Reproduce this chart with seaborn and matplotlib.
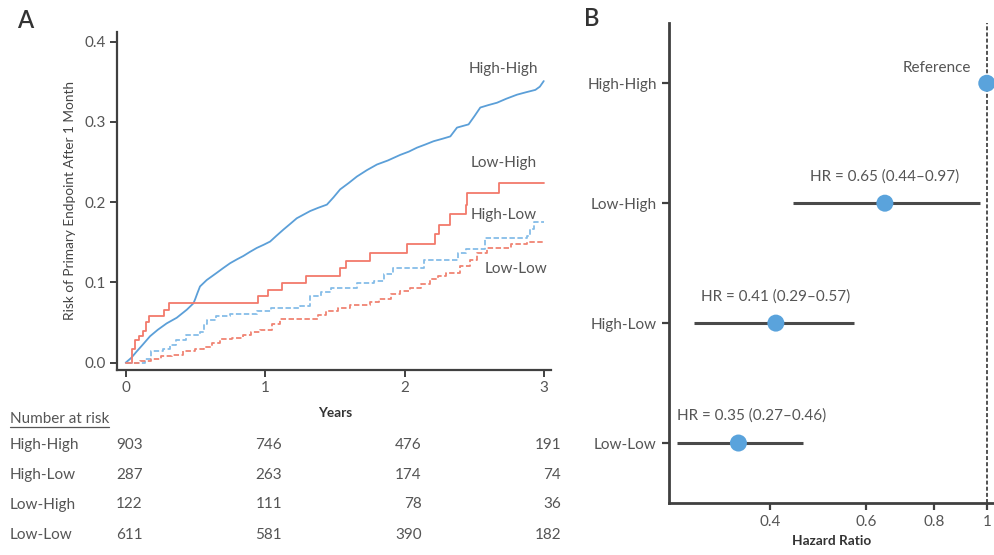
import numpy as np
import pandas as pd
import matplotlib
matplotlib.use("Agg")
import matplotlib.pyplot as plt
import matplotlib.transforms as mtransforms
from matplotlib.lines import Line2D
import seaborn as sns

# ---------------- data ----------------
hh_t = [0, 0.04, 0.079, 0.12, 0.175, 0.23, 0.294, 0.366, 0.438, 0.486, 0.498, 0.515, 0.533, 0.581,
        0.653, 0.70, 0.749, 0.80, 0.844, 0.89, 0.940, 0.99, 1.036, 1.08, 1.132, 1.18, 1.227, 1.323,
        1.38, 1.443, 1.49, 1.538, 1.60, 1.658, 1.73, 1.802, 1.88, 1.969, 2.03, 2.089, 2.15, 2.208,
        2.27, 2.328, 2.376, 2.459, 2.50, 2.543, 2.60, 2.663, 2.73, 2.806, 2.87, 2.938, 2.97, 2.998]
hh_y = [0, 0.006, 0.014, 0.022, 0.033, 0.041, 0.049, 0.056, 0.066, 0.074, 0.079, 0.087, 0.095, 0.103,
        0.112, 0.118, 0.124, 0.129, 0.133, 0.138, 0.143, 0.147, 0.151, 0.158, 0.166, 0.173, 0.180, 0.189,
        0.193, 0.197, 0.206, 0.216, 0.224, 0.232, 0.240, 0.247, 0.252, 0.259, 0.263, 0.268, 0.272, 0.276,
        0.279, 0.282, 0.293, 0.297, 0.307, 0.318, 0.321, 0.324, 0.329, 0.334, 0.337, 0.340, 0.344, 0.351]

lh_t = [0, 0.043, 0.066, 0.098, 0.126, 0.146, 0.17, 0.277, 0.313, 0.951, 1.023, 1.119, 1.294, 1.537,
        1.578, 1.753, 2.017, 2.22, 2.244, 2.328, 2.443, 2.45, 2.675, 3.0]
lh_y = [0, 0.017, 0.028, 0.033, 0.040, 0.051, 0.058, 0.066, 0.074, 0.083, 0.091, 0.099, 0.108, 0.118,
        0.127, 0.137, 0.148, 0.160, 0.172, 0.185, 0.197, 0.211, 0.224, 0.224]

hl_t = [0, 0.14, 0.18, 0.27, 0.32, 0.36, 0.43, 0.53, 0.56, 0.58, 0.65, 0.75, 0.94, 1.04, 1.25, 1.32,
        1.40, 1.47, 1.66, 1.78, 1.85, 1.92, 2.14, 2.38, 2.44, 2.58, 2.88, 2.90, 2.93, 3.0]
hl_y = [0, 0.004, 0.014, 0.017, 0.022, 0.028, 0.035, 0.038, 0.048, 0.053, 0.058, 0.061, 0.064, 0.068,
        0.071, 0.083, 0.088, 0.093, 0.099, 0.102, 0.110, 0.118, 0.128, 0.137, 0.142, 0.155, 0.158,
        0.166, 0.175, 0.175]

ll_t = [0, 0.10, 0.18, 0.25, 0.33, 0.41, 0.50, 0.56, 0.62, 0.68, 0.76, 0.84, 0.90, 0.96, 1.05, 1.11,
        1.32, 1.38, 1.44, 1.52, 1.61, 1.75, 1.82, 1.90, 1.97, 2.04, 2.12, 2.18, 2.24, 2.30, 2.40, 2.47,
        2.52, 2.59, 2.76, 2.88, 3.0]
ll_y = [0, 0.002, 0.004, 0.008, 0.010, 0.014, 0.017, 0.020, 0.024, 0.029, 0.031, 0.035, 0.038, 0.041,
        0.048, 0.054, 0.055, 0.060, 0.064, 0.068, 0.072, 0.076, 0.080, 0.085, 0.089, 0.093, 0.098,
        0.104, 0.108, 0.112, 0.120, 0.128, 0.137, 0.143, 0.148, 0.151, 0.151]

groups = ["High-High", "High-Low", "Low-High", "Low-Low"]
risk_times = [0, 1, 2, 3]
risk_counts = {
    "High-High": [903, 746, 476, 191],
    "High-Low": [287, 263, 174, 74],
    "Low-High": [122, 111, 78, 36],
    "Low-Low": [611, 581, 390, 182],
}

hr_groups = ["High-High", "Low-High", "High-Low", "Low-Low"]
hr_est = [1.0, 0.65, 0.41, 0.35]
hr_lo = [np.nan, 0.44, 0.29, 0.27]
hr_hi = [np.nan, 0.97, 0.57, 0.46]
hr_text = ["Reference", "HR = 0.65 (0.44–0.97)", "HR = 0.41 (0.29–0.57)", "HR = 0.35 (0.27–0.46)"]

# ---------------- style ----------------
sns.set_theme(style="white")
plt.rcParams["font.family"] = ["Lato", "DejaVu Sans"]
TXT = "#555555"
SP = "#404040"
BLUE = "#5B9FD8"
BLUE_L = "#86BDE8"
RED = "#F2796B"
RED_D = "#F08473"
FS = 11

W, H = 994, 555
fig = plt.figure(figsize=(W / 100, H / 100), dpi=100)

def fr(x0, y0, x1, y1):
    return [x0 / W, 1 - y1 / H, (x1 - x0) / W, (y1 - y0) / H]

# ---------------- panel A ----------------
axA = fig.add_axes(fr(117.3, 31.7, 551, 370))
series = [
    ("High-High", hh_t, hh_y, BLUE, "-", "default"),
    ("Low-High", lh_t, lh_y, RED, "-", "steps-post"),
    ("High-Low", hl_t, hl_y, BLUE_L, "--", "steps-post"),
    ("Low-Low", ll_t, ll_y, RED_D, "--", "steps-post"),
]
for name, t, y, c, ls, dstyle in series:
    df = pd.DataFrame({"t": t, "y": y})
    kw = dict(dashes=(3, 1.4)) if ls == "--" else {}
    sns.lineplot(data=df, x="t", y="y", ax=axA, color=c, linewidth=1.3,
                 drawstyle=dstyle, estimator=None, sort=False, **kw)

axA.set_xlim(-0.06, 3.05)
axA.set_ylim(-0.0091, 0.4125)
axA.set_xticks([0, 1, 2, 3])
axA.set_xticklabels(["0", "1", "2", "3"])
axA.set_yticks([0.0, 0.1, 0.2, 0.3, 0.4])
axA.set_yticklabels(["0.0", "0.1", "0.2", "0.3", "0.4"])
axA.set_xlabel("")
axA.set_ylabel("Risk of Primary Endpoint After 1 Month", fontsize=9.8, color="#444444", labelpad=6)
for s in ["top", "right"]:
    axA.spines[s].set_visible(False)
for s in ["left", "bottom"]:
    axA.spines[s].set_color(SP)
    axA.spines[s].set_linewidth(1.6)
axA.tick_params(axis="both", direction="out", length=5, width=1.4, color=SP,
                labelsize=FS, labelcolor=TXT, pad=3, bottom=True, left=True)

label_pos = {"High-High": (2.71, 0.366), "Low-High": (2.71, 0.249),
             "High-Low": (2.71, 0.184), "Low-Low": (2.80, 0.117)}
for g, (x, y) in label_pos.items():
    axA.text(x, y, g, ha="center", va="center", fontsize=FS, color=TXT)

fig.text(25 / W, 1 - 20 / H, "A", fontsize=17, fontweight="semibold", color="#333333",
         ha="center", va="center")

# Years label
fig.text((125.7 + 544) / 2 / W, 1 - 413 / H, "Years", fontsize=9.8, fontweight="bold",
         color="#333333", ha="center", va="center")

# Number at risk table
t_nr = fig.text(10 / W, 1 - 419 / H, "Number at risk", fontsize=FS, color=TXT, ha="left", va="center")
row_y = [445, 475, 504.5, 535]
blend = mtransforms.blended_transform_factory(axA.transData, fig.transFigure)
off = mtransforms.ScaledTranslation(17 / 100, 0, fig.dpi_scale_trans)
for g, yy in zip(groups, row_y):
    fig.text(10 / W, 1 - yy / H, g, fontsize=FS, color=TXT, ha="left", va="center")
    for tt, n in zip(risk_times, risk_counts[g]):
        fig.text(tt, 1 - yy / H, str(n), fontsize=FS, color=TXT, ha="right", va="center",
                 transform=blend + off)

fig.canvas.draw()
bb = t_nr.get_window_extent()
fig.add_artist(Line2D([bb.x0 / W, bb.x1 / W], [(bb.y0 - 1) / H, (bb.y0 - 1) / H],
                      transform=fig.transFigure, color=TXT, linewidth=0.9))

# ---------------- panel B ----------------
axB = fig.add_axes(fr(669.3, 23.3, 994, 503))
axB.set_xscale("log")
ypos = list(range(len(hr_groups)))
dfB = pd.DataFrame({"hr": hr_est, "pos": ypos, "lo": hr_lo, "hi": hr_hi})
axB.axvline(1.0, color="#444444", linewidth=1.3, dashes=(2.2, 1.2), zorder=1)
ci = dfB.dropna()
axB.hlines(ci["pos"], ci["lo"], ci["hi"], color="#4A4A4A", linewidth=2.2, zorder=2)
sns.scatterplot(data=dfB, x="hr", y="pos", ax=axB, s=150, color="#5AA3DC",
                edgecolor="none", zorder=3, clip_on=False, legend=False)
axB.set_xlim(0.2613, 1.031)
axB.set_ylim(3.5, -0.5)
axB.xaxis.set_major_locator(matplotlib.ticker.FixedLocator([0.4, 0.6, 0.8, 1.0]))
axB.xaxis.set_minor_locator(matplotlib.ticker.NullLocator())
axB.set_xticklabels(["0.4", "0.6", "0.8", "1"])
axB.set_yticks(ypos)
axB.set_yticklabels(hr_groups)
axB.set_xlabel("Hazard Ratio", fontsize=9.8, fontweight="bold", color="#333333", labelpad=4)
axB.set_ylabel("")
for s in ["top", "right"]:
    axB.spines[s].set_visible(False)
for s in ["left", "bottom"]:
    axB.spines[s].set_color(SP)
    axB.spines[s].set_linewidth(2.0)
axB.tick_params(axis="both", direction="out", length=5, width=1.6, color=SP,
                labelsize=FS, labelcolor=TXT, pad=4, bottom=True, left=True)

text_off = [(-16, 15), (0, 27), (0, 27), (13, 27)]
for i, (txt, (dx, dy)) in enumerate(zip(hr_text, text_off)):
    ha = "right" if i == 0 else "center"
    axB.annotate(txt, (hr_est[i], ypos[i]), xytext=(dx * 0.72, dy * 0.72),
                 textcoords="offset points", ha=ha, va="center", fontsize=FS, color=TXT)

fig.text(592 / W, 1 - 18 / H, "B", fontsize=17, fontweight="semibold", color="#333333",
         ha="center", va="center")

fig.savefig("out.png", dpi=100)
